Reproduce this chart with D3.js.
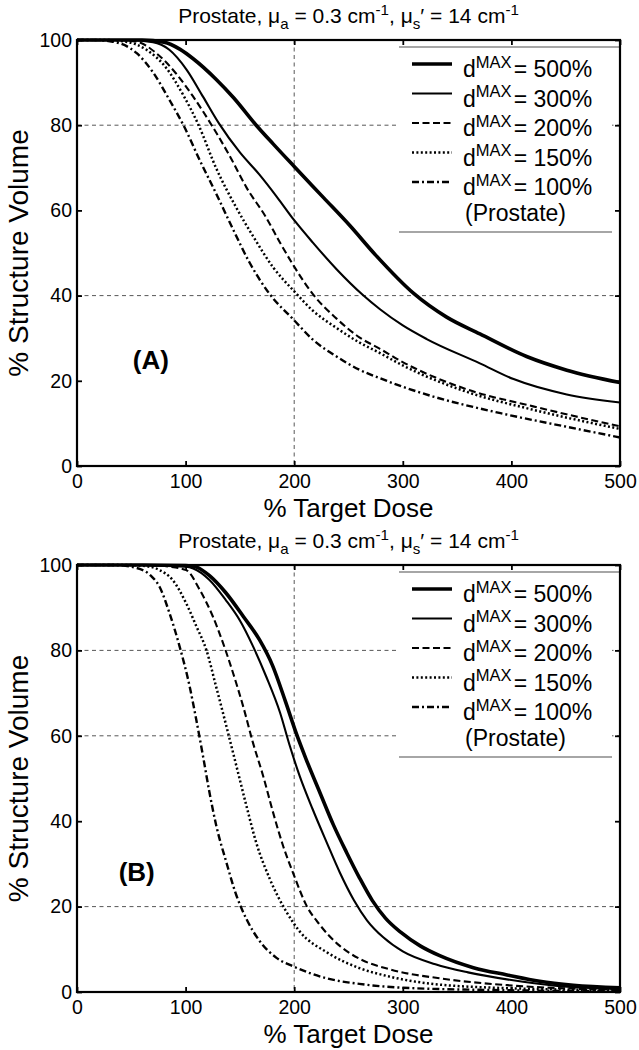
<!DOCTYPE html>
<html><head><meta charset="utf-8">
<script src="https://cdn.jsdelivr.net/npm/d3@7"></script>
<style>
body{margin:0;background:#fff}
svg{display:block}
text{font-family:"Liberation Sans",Arial,Helvetica,sans-serif;fill:#000}
</style>
</head><body>
<svg id="chart" width="639" height="1050"></svg>
<script>
// ---------------- data ----------------
const doseTicks = [0, 100, 200, 300, 400, 500];
const volumeTicks = [0, 20, 40, 60, 80, 100];
const seriesKeys = ["d500", "d300", "d200", "d150", "d100"];
const legendLabels = ["500%", "300%", "200%", "150%", "100%"];
const legendExtra = "(Prostate)";
const gridDose = [200];
const gridVolumeA = [80, 40];
const gridVolumeB = [80, 60, 20];
const panelLabels = ["(A)", "(B)"];

// Panel A: [dose %, volume %]
const a_d500 = [[0,100],[60,100],[80,99.5],[95,97.8],[107,95.6],[128,90.8],[144,86.5],[165,80],[181,75.5],[200,70.3],[227,63],[251,56.5],[275,49.5],[310,40.5],[340,35],[371,31],[414,25.7],[451,22.5],[500,19.6]];
const a_d300 = [[0,100],[45,100],[70,99.5],[85,97.7],[101,93],[116,86.7],[131,80.3],[150,73.6],[168,68.4],[184,63.2],[200,57.7],[217,52.5],[239,46.2],[263,40.2],[279,36.8],[300,33],[322,29.8],[371,24.1],[402,20.4],[451,16.8],[500,14.9]];
const a_d200 = [[0,100],[35,100],[55,99.6],[73,96.9],[91,92.2],[107,86.7],[124,80],[141,72.6],[156,65.4],[174,58.4],[187,52.4],[200,46.8],[217,40.4],[239,34.6],[260,30.2],[279,27.5],[297,24.8],[359,18],[420,14],[500,9.3]];
const a_d150 = [[0,100],[25,100],[45,99.6],[64,97.7],[82,93.5],[98,87],[112,80],[128,70],[147,60.5],[162,54],[181,46.5],[200,41],[217,36.5],[239,32.4],[260,29],[279,26.5],[300,23.6],[359,17.4],[420,13.2],[500,8.7]];
const a_d100 = [[0,100],[15,100],[33,99.6],[55,96.9],[70,92.4],[85,86],[99,79.5],[113,71.8],[128,64],[144,55.4],[159,47.7],[177,40.5],[200,34.2],[217,29.7],[239,25.7],[260,22.6],[279,20.6],[300,18.6],[328,16.3],[390,12.4],[451,9.2],[500,6.7]];

// Panel B: [dose %, volume %]
const b_d500 = [[0,100],[60,100],[100,99.9],[110,99.5],[122,97.5],[137,93.5],[153,88],[168,82.5],[180,76.5],[192,68],[202,60.5],[211,54.5],[224,46.5],[236,39.2],[248,32.8],[260,26.8],[272,21.4],[284,17.3],[298,14],[316,10.8],[334,8.5],[365,5.7],[396,4],[426,2.5],[457,1.6],[500,1.0]];
const b_d300 = [[0,100],[60,100],[100,99.6],[107,99.2],[122,96.5],[137,91.8],[150,87],[162,81],[174,74],[187,65.4],[196,57.6],[205,50.6],[217,42.8],[230,35],[242,28],[255,21.5],[267,16.8],[282,12.8],[300,9.5],[330,6.5],[360,4.6],[400,2.8],[440,1.5],[500,0.7]];
const b_d200 = [[0,100],[60,100],[85,99.6],[100.6,98.8],[113,94.2],[125,88],[134.5,81.7],[143.7,74.7],[153,66.9],[162,58.4],[171.4,50.6],[180.6,42],[189.8,34.2],[200,27.2],[211,20.4],[224,15.6],[242,10.8],[260,7.8],[288,5.3],[334,3.2],[396,1.6],[500,0.5]];
const b_d150 = [[0,100],[45,100],[67,99.6],[76,98.8],[88,96.5],[100.6,91],[110,85.6],[119,80.2],[128,71.6],[137.5,62.3],[146.8,52.9],[156,43.6],[165,35],[177.5,26.5],[193,18.7],[205,14.2],[230,9.3],[260,5.6],[288,3.6],[365,1.2],[500,0.4]];
const b_d100 = [[0,100],[35,100],[55,99.3],[68,97.5],[76,94.9],[85.2,88.7],[94.5,80.9],[103.7,71.6],[109.8,63.8],[116,55.3],[122,46.7],[128.3,38.9],[137.5,30.4],[146.8,22.6],[156,17.1],[168.3,11.9],[183.7,8],[200,5.9],[230,3.2],[260,1.9],[300,1.0],[400,0.4],[500,0.2]];

// ---------------- layout / styles ----------------
const W = 639, H = 1050;
const plotLeft = 77, plotRight = 620;
const panels = [
  {top: 40, bottom: 466, series: {d500: a_d500, d300: a_d300, d200: a_d200, d150: a_d150, d100: a_d100}, gridVol: gridVolumeA, label: panelLabels[0], labelAt: [68, 25]},
  {top: 565, bottom: 992, series: {d500: b_d500, d300: b_d300, d200: b_d200, d150: b_d150, d100: b_d100}, gridVol: gridVolumeB, label: panelLabels[1], labelAt: [55, 28]}
];
const styles = {
  d500: {w: 3.6, dash: null},
  d300: {w: 2.1, dash: null},
  d200: {w: 2.1, dash: "7,3.5"},
  d150: {w: 2.5, dash: "2,2.4"},
  d100: {w: 2.4, dash: "7,3,2,3"}
};

const svg = d3.select("#chart");
svg.append("rect").attr("width", W).attr("height", H).attr("fill", "#fff");

function richText(sel, parts, baseSize) {
  parts.forEach(p => {
    const t = sel.append("tspan").text(p.t);
    if (p.sub) { t.attr("font-size", baseSize * 0.72).attr("dy", baseSize * 0.28); }
    else if (p.sup) { t.attr("font-size", baseSize * 0.72).attr("dy", -baseSize * 0.4); }
    else if (p.after === "sub") { t.attr("dy", -baseSize * 0.28); }
    else if (p.after === "sup") { t.attr("dy", baseSize * 0.4); }
    if (p.dx) t.attr("dx", p.dx);
  });
}

panels.forEach(p => {
  const x = d3.scaleLinear().domain([0, 500]).range([plotLeft, plotRight]);
  const y = d3.scaleLinear().domain([0, 100]).range([p.bottom, p.top]);
  const g = svg.append("g");

  // grid
  g.selectAll(".gy").data(p.gridVol).join("line")
    .attr("x1", plotLeft).attr("x2", plotRight)
    .attr("y1", d => y(d)).attr("y2", d => y(d))
    .attr("stroke", "#444").attr("stroke-width", 0.9).attr("stroke-dasharray", "4,3.5");
  g.selectAll(".gx").data(gridDose).join("line")
    .attr("x1", d => x(d)).attr("x2", d => x(d))
    .attr("y1", p.top).attr("y2", p.bottom)
    .attr("stroke", "#444").attr("stroke-width", 0.9).attr("stroke-dasharray", "4,3.5");

  // curves
  const line = d3.line().x(d => x(d[0])).y(d => y(d[1])).curve(d3.curveMonotoneX);
  seriesKeys.forEach(k => {
    g.append("path").datum(p.series[k])
      .attr("d", line).attr("fill", "none").attr("stroke", "#000")
      .attr("stroke-width", styles[k].w)
      .attr("stroke-dasharray", styles[k].dash)
      .attr("stroke-linejoin", "round");
  });

  // legend
  const lg = g.append("g").attr("transform", `translate(0,${p.top})`);
  lg.append("rect").attr("x", 399).attr("y", 7).attr("width", 213).attr("height", 185).attr("fill", "#fff");
  lg.append("line").attr("x1", 399).attr("x2", 620).attr("y1", 7).attr("y2", 7).attr("stroke", "#888").attr("stroke-width", 1.5);
  lg.append("line").attr("x1", 399).attr("x2", 612).attr("y1", 192).attr("y2", 192).attr("stroke", "#888").attr("stroke-width", 1.5);
  seriesKeys.forEach((k, i) => {
    const ly = 24 + i * 29.5;
    lg.append("line").attr("x1", 412).attr("x2", 452).attr("y1", ly).attr("y2", ly)
      .attr("stroke", "#000").attr("stroke-width", styles[k].w).attr("stroke-dasharray", styles[k].dash);
    const t = lg.append("text").attr("x", 463).attr("y", ly + 13).attr("font-size", 23);
    richText(t, [{t: "d"}, {t: "MAX", sup: true}, {t: "= " + legendLabels[i], after: "sup", dx: 2}], 23);
  });
  lg.append("text").attr("x", 465).attr("y", 181).attr("font-size", 23).text(legendExtra);

  // axes (ticks inside)
  const xb = d3.axisBottom(x).tickValues(doseTicks).tickSizeInner(-5).tickSizeOuter(0).tickPadding(8);
  const yl = d3.axisLeft(y).tickValues(volumeTicks).tickSizeInner(-5).tickSizeOuter(0).tickPadding(5);
  const xt = d3.axisTop(x).tickValues(doseTicks).tickSizeInner(-5).tickSizeOuter(0).tickFormat("");
  const yr = d3.axisRight(y).tickValues(volumeTicks).tickSizeInner(-5).tickSizeOuter(0).tickFormat("");
  const gxb = g.append("g").attr("transform", `translate(0,${p.bottom})`).call(xb);
  const gyl = g.append("g").attr("transform", `translate(${plotLeft},0)`).call(yl);
  const gxt = g.append("g").attr("transform", `translate(0,${p.top})`).call(xt);
  const gyr = g.append("g").attr("transform", `translate(${plotRight},0)`).call(yr);
  [gxb, gyl, gxt, gyr].forEach(a => {
    a.select(".domain").remove();
    a.selectAll(".tick line").attr("stroke", "#000").attr("stroke-width", 1.8);
    a.selectAll("text").attr("font-size", 19.5).attr("fill", "#000")
      .attr("font-family", "'Liberation Sans', Arial, sans-serif");
  });

  // frame
  g.append("rect").attr("x", plotLeft).attr("y", p.top)
    .attr("width", plotRight - plotLeft).attr("height", p.bottom - p.top)
    .attr("fill", "none").attr("stroke", "#000").attr("stroke-width", 2.2);

  // panel label
  g.append("text").attr("x", x(p.labelAt[0])).attr("y", y(p.labelAt[1]))
    .attr("text-anchor", "middle").attr("dominant-baseline", "central")
    .attr("font-family", "'Liberation Serif','Times New Roman',serif")
    .attr("font-weight", "bold").attr("font-size", 26).text(p.label);

  // title
  const tt = g.append("text").attr("x", (plotLeft + plotRight) / 2).attr("y", p.top - 17)
    .attr("text-anchor", "middle").attr("font-size", 21);
  richText(tt, [
    {t: "Prostate, μ"}, {t: "a", sub: true}, {t: " = 0.3 cm", after: "sub"},
    {t: "-1", sup: true}, {t: ", μ", after: "sup"}, {t: "s", sub: true},
    {t: "′ = 14 cm", after: "sub"}, {t: "-1", sup: true}
  ], 21);

  // axis titles
  g.append("text").attr("x", (plotLeft + plotRight) / 2).attr("y", p.bottom + 51)
    .attr("text-anchor", "middle").attr("font-size", 26).text("% Target Dose");
  g.append("text").attr("transform", `translate(28,${(p.top + p.bottom) / 2}) rotate(-90)`)
    .attr("text-anchor", "middle").attr("font-size", 28).text("% Structure Volume");
});
</script>
</body></html>
